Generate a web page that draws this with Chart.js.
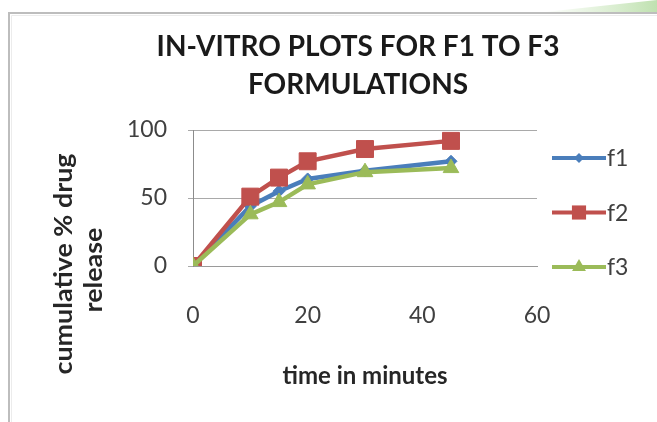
<!DOCTYPE html>
<html>
<head>
<meta charset="utf-8">
<script src="https://cdn.jsdelivr.net/npm/chart.js@4/dist/chart.umd.min.js"></script>
<style>
  html, body { margin: 0; padding: 0; background: #ffffff; }
  #wrap { width: 657px; height: 422px; position: relative; }
</style>
</head>
<body>
<div id="wrap"><canvas id="c" width="657" height="422"></canvas></div>
<script>
// Sampling times (minutes) and cumulative % drug release per formulation
const timeMinutes = [0, 10, 15, 20, 30, 45];
const seriesNames = ['f1', 'f2', 'f3'];
const releaseF1 = [0, 44, 55, 64, 70, 77];
const releaseF2 = [0, 51, 65, 77, 86, 92];
const releaseF3 = [0, 38, 47, 60, 69, 72];
const xTicks = [0, 20, 40, 60];
const yTicks = [0, 50, 100];

const titleLines = ['IN-VITRO PLOTS FOR F1 TO F3', 'FORMULATIONS'];
const xAxisTitle = 'time in minutes';
const yAxisTitleLines = ['cumulative % drug', 'release'];

const FONT = 'Lato, "Open Sans", sans-serif';

function toPoints(values) {
  return values.map((v, i) => ({ x: timeMinutes[i], y: v }));
}

const seriesStyle = [
  { color: '#4A7EBB', pointStyle: 'rectRot', radius: 6, legendRadius: 5 },
  { color: '#C0504D', pointStyle: 'rect', radius: 12, legendRadius: 10 },
  { color: '#9BBB59', pointStyle: 'triangle', radius: 9, legendRadius: 8 }
];
const seriesValues = [releaseF1, releaseF2, releaseF3];

const datasets = seriesNames.map((name, i) => ({
  label: name,
  data: toPoints(seriesValues[i]),
  borderColor: seriesStyle[i].color,
  backgroundColor: seriesStyle[i].color,
  borderWidth: 4.5,
  pointStyle: seriesStyle[i].pointStyle,
  pointRadius: seriesStyle[i].radius,
  pointHoverRadius: seriesStyle[i].radius,
  pointBorderWidth: 1,
  pointBorderColor: seriesStyle[i].color,
  pointBackgroundColor: seriesStyle[i].color,
  tension: 0,
  order: seriesNames.length - 1 - i
}));

// Small marker drawer used by the legend
function drawMarker(ctx, style, x, y, r, color) {
  ctx.save();
  ctx.fillStyle = color;
  ctx.beginPath();
  if (style === 'rect') {
    const s = r * Math.SQRT1_2;
    ctx.rect(x - s, y - s, 2 * s, 2 * s);
  } else if (style === 'rectRot') {
    ctx.moveTo(x, y - r); ctx.lineTo(x + r, y); ctx.lineTo(x, y + r); ctx.lineTo(x - r, y);
    ctx.closePath();
  } else {
    ctx.moveTo(x, y - r); ctx.lineTo(x + r * 0.87, y + r * 0.5); ctx.lineTo(x - r * 0.87, y + r * 0.5);
    ctx.closePath();
  }
  ctx.fill();
  ctx.restore();
}

const decorations = {
  id: 'decorations',
  beforeDraw(chart) {
    const ctx = chart.ctx;
    ctx.save();
    ctx.fillStyle = '#ffffff';
    ctx.fillRect(0, 0, chart.width, chart.height);
    // soft green swoosh at the top right
    const g = ctx.createLinearGradient(540, 0, 657, 0);
    g.addColorStop(0, 'rgba(190,225,170,0)');
    g.addColorStop(1, 'rgba(170,215,150,0.75)');
    ctx.fillStyle = g;
    ctx.beginPath();
    ctx.moveTo(545, 12);
    ctx.quadraticCurveTo(600, 6, 657, 0);
    ctx.lineTo(657, 12);
    ctx.closePath();
    ctx.fill();
    // chart object frame
    ctx.strokeStyle = '#bdbdbd';
    ctx.lineWidth = 2;
    ctx.beginPath();
    ctx.moveTo(9, 422);
    ctx.lineTo(9, 13);
    ctx.lineTo(657, 13);
    ctx.stroke();
    ctx.strokeStyle = '#ececec';
    ctx.lineWidth = 1;
    ctx.beginPath();
    ctx.moveTo(11.5, 422);
    ctx.lineTo(11.5, 15.5);
    ctx.lineTo(657, 15.5);
    ctx.stroke();
    ctx.restore();
  },
  afterDraw(chart) {
    const ctx = chart.ctx;
    ctx.save();
    // main title
    ctx.fillStyle = '#1a1a1a';
    ctx.textAlign = 'center';
    ctx.textBaseline = 'middle';
    ctx.font = 'bold 28px ' + FONT;
    ctx.fillText(titleLines[0], 358, 47);
    ctx.fillText(titleLines[1], 358, 85);

    // vertical axis title, two rotated lines
    ctx.font = 'bold 24px ' + FONT;
    ctx.fillStyle = '#262626';
    const yTitlePos = [[64, 264], [94, 270]];
    yAxisTitleLines.forEach((line, i) => {
      ctx.save();
      ctx.translate(yTitlePos[i][0], yTitlePos[i][1]);
      ctx.rotate(-Math.PI / 2);
      ctx.scale(1.12, 1);
      ctx.fillText(line, 0, 0);
      ctx.restore();
    });

    // legend: line with marker, then series name
    ctx.textAlign = 'left';
    ctx.font = '23px ' + FONT;
    chart.data.datasets.forEach((ds, i) => {
      const y = 158 + i * 54.5;
      ctx.strokeStyle = ds.borderColor;
      ctx.lineWidth = 4;
      ctx.beginPath();
      ctx.moveTo(552, y);
      ctx.lineTo(606, y);
      ctx.stroke();
      drawMarker(ctx, seriesStyle[i].pointStyle, 579, y, seriesStyle[i].legendRadius, ds.borderColor);
      ctx.fillStyle = '#404040';
      ctx.fillText(ds.label, 607, y + 1);
    });
    ctx.restore();
  }
};

new Chart(document.getElementById('c'), {
  type: 'line',
  data: { datasets },
  options: {
    responsive: false,
    animation: false,
    events: [],
    layout: { padding: { left: 0, right: 120, top: 130, bottom: 0 } },
    plugins: {
      legend: { display: false },
      title: { display: false },
      tooltip: { enabled: false }
    },
    scales: {
      x: {
        type: 'linear',
        min: 0,
        max: 60,
        afterFit(scale) { scale.height = 156; },
        afterBuildTicks(scale) { scale.ticks = xTicks.map(v => ({ value: v })); },
        grid: { display: false, drawTicks: false },
        border: { display: true, color: '#9a9a9a', width: 1 },
        ticks: {
          padding: 36,
          color: '#404040',
          font: { family: FONT, size: 23 }
        },
        title: {
          display: true,
          text: xAxisTitle,
          color: '#262626',
          font: { family: FONT, size: 24, weight: 'bold' },
          padding: { top: 0, bottom: 31 }
        }
      },
      y: {
        type: 'linear',
        min: 0,
        max: 100,
        afterFit(scale) { scale.width = 193; },
        afterBuildTicks(scale) { scale.ticks = yTicks.map(v => ({ value: v })); },
        grid: { color: '#a9a9a9', lineWidth: 1, drawTicks: true, tickLength: 5 },
        border: { display: true, color: '#8c8c8c', width: 1 },
        ticks: {
          padding: 21,
          color: '#404040',
          font: { family: FONT, size: 23 }
        }
      }
    }
  },
  plugins: [decorations]
});
</script>
</body>
</html>
